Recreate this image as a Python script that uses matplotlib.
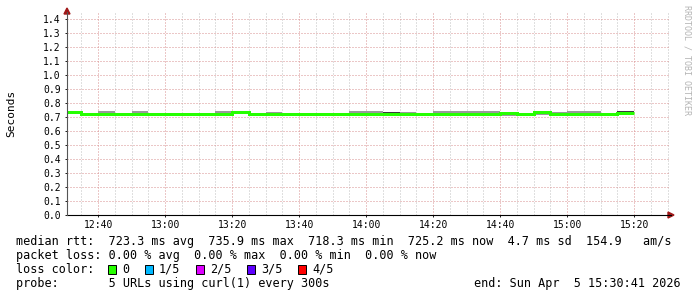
import matplotlib
matplotlib.use("Agg")
import matplotlib.pyplot as plt
from matplotlib.lines import Line2D
from matplotlib.patches import Polygon, Rectangle

# ---------------- data ----------------
start_time = "12:30:41"
end_time = "15:30:41"
seg_end = ["12:35", "12:40", "12:45", "12:50", "12:55", "13:00", "13:05", "13:10",
           "13:15", "13:20", "13:25", "13:30", "13:35", "13:40", "13:45", "13:50",
           "13:55", "14:00", "14:05", "14:10", "14:15", "14:20", "14:25", "14:30",
           "14:35", "14:40", "14:45", "14:50", "14:55", "15:00", "15:05", "15:10",
           "15:15", "15:20"]
median = [0.733, 0.722, 0.722, 0.722, 0.722, 0.722, 0.7183, 0.722,
          0.722, 0.724, 0.7359, 0.722, 0.719, 0.722, 0.722, 0.7195,
          0.722, 0.7195, 0.722, 0.724, 0.724, 0.719, 0.722, 0.722,
          0.722, 0.722, 0.730, 0.722, 0.734, 0.7195, 0.722, 0.720,
          0.722, 0.7252]
smoke_hi = [0.735, 0.728, 0.743, 0.724, 0.740, 0.724, 0.728, 0.724,
            0.724, 0.744, 0.738, 0.724, 0.739, 0.724, 0.724, 0.721,
            0.724, 0.744, 0.742, 0.737, 0.737, 0.721, 0.742, 0.742,
            0.742, 0.742, 0.732, 0.724, 0.736, 0.736, 0.740, 0.740,
            0.724, 0.743]
smoke_lo = [0.731, 0.720, 0.720, 0.720, 0.720, 0.720, 0.716, 0.720,
            0.720, 0.722, 0.734, 0.720, 0.717, 0.720, 0.720, 0.718,
            0.720, 0.718, 0.720, 0.722, 0.722, 0.717, 0.720, 0.720,
            0.720, 0.720, 0.708, 0.720, 0.712, 0.718, 0.720, 0.718,
            0.720, 0.723]
core_hi = [0.734, 0.723, 0.723, 0.723, 0.723, 0.723, 0.719, 0.723,
           0.723, 0.725, 0.737, 0.723, 0.720, 0.723, 0.723, 0.720,
           0.723, 0.720, 0.723, 0.737, 0.725, 0.720, 0.723, 0.723,
           0.723, 0.723, 0.731, 0.723, 0.735, 0.720, 0.723, 0.721,
           0.723, 0.743]
core_lo = [0.732, 0.721, 0.721, 0.721, 0.721, 0.721, 0.717, 0.721,
           0.721, 0.723, 0.735, 0.721, 0.718, 0.721, 0.721, 0.719,
           0.721, 0.719, 0.721, 0.723, 0.723, 0.718, 0.721, 0.721,
           0.721, 0.721, 0.729, 0.721, 0.733, 0.719, 0.721, 0.719,
           0.721, 0.724]
y_ticks = [0.0, 0.1, 0.2, 0.3, 0.4, 0.5, 0.6, 0.7, 0.8, 0.9, 1.0, 1.1, 1.2, 1.3, 1.4]
x_tick_labels = ["12:40", "13:00", "13:20", "13:40", "14:00", "14:20", "14:40", "15:00", "15:20"]
loss_labels = ["0", "1/5", "2/5", "3/5", "4/5"]
loss_colors = ["#26ff00", "#00b8ff", "#dd00ff", "#5e00ff", "#ff0000"]

legend_rtt = "median rtt:  723.3 ms avg  735.9 ms max  718.3 ms min  725.2 ms now  4.7 ms sd  154.9   am/s"
legend_loss = "packet loss: 0.00 % avg  0.00 % max  0.00 % min  0.00 % now"
legend_probe = "probe:       5 URLs using curl(1) every 300s"
legend_end = "end: Sun Apr  5 15:30:41 2026"


def mins(s):
    p = [int(v) for v in s.split(":")]
    while len(p) < 3:
        p.append(0)
    return p[0] * 60 + p[1] + p[2] / 60.0


t0 = mins(start_time)
t1 = mins(end_time)
edges = [t0] + [mins(s) for s in seg_end]

# ---------------- figure ----------------
W, H = 697, 297
fig = plt.figure(figsize=(W / 100, H / 100), dpi=100)
fig.patch.set_facecolor("white")


def fx(x):
    return x / W


def fy(y):
    return 1 - y / H


MONO = "DejaVu Sans Mono"

ax = fig.add_axes([fx(67), fy(215), (670 - 67) / W, (215 - 13) / H])
ax.set_xlim(t0, t1)
ytop = (215 - 13) / 140.0
ax.set_ylim(0, ytop)
for s in ax.spines.values():
    s.set_visible(False)
ax.set_facecolor("white")

# grid (dotted)
minor_x = [m for m in range(int(t0) // 5 * 5 + 5, int(t1) + 1, 5)]
major_x = [mins(s) for s in x_tick_labels]
minor_only = [m for m in minor_x if m not in major_x]
grid_kw = dict(linewidth=0.72, linestyles=(0, (1, 2)), zorder=1)
ax.vlines(minor_only, 0, ytop, colors="#c0c0c0", **grid_kw)
ax.vlines(major_x, 0, ytop, colors="#d89090", **grid_kw)
ax.hlines(y_ticks[1:], t0, t1, colors="#d89090", **grid_kw)

# smoke
ax.stairs(smoke_hi, edges, baseline=smoke_lo, fill=True, color="#999999",
          linewidth=0, zorder=2)
ax.stairs(core_hi, edges, baseline=core_lo, fill=True, color="#3a3a3a",
          linewidth=0, zorder=3)
# median line
ax.stairs(median, edges, baseline=None, color="#26ff00", linewidth=2.16, zorder=4)

# ticks
ax.set_xticks(major_x)
ax.set_xticklabels(x_tick_labels, fontfamily=MONO, fontsize=7)
ax.set_yticks(y_ticks)
ax.set_yticklabels(["%.1f" % v for v in y_ticks], fontfamily=MONO, fontsize=7)
ax.tick_params(axis="x", length=1.5, width=0.72, pad=2.0, color="#222222")
ax.tick_params(axis="y", length=1.5, width=0.72, pad=3.0, color="#222222")

# axes lines and arrows
fig.add_artist(Line2D([fx(67), fx(671)], [fy(215), fy(215)], color="black",
                      linewidth=0.8, transform=fig.transFigure))
fig.add_artist(Line2D([fx(67), fx(67)], [fy(215), fy(12)], color="#555555",
                      linewidth=0.8, transform=fig.transFigure))
fig.add_artist(Polygon([[fx(668), fy(212)], [fx(674), fy(215)], [fx(668), fy(218)]],
                       closed=True, color="#a01818", transform=fig.transFigure))
fig.add_artist(Polygon([[fx(64), fy(14)], [fx(67), fy(8)], [fx(70), fy(14)]],
                       closed=True, color="#a01818", transform=fig.transFigure))

# y label
fig.text(fx(11), fy(113), "Seconds", rotation=90, ha="center", va="center",
         fontfamily=MONO, fontsize=8)

# watermark
fig.text(fx(687), fy(60), "RRDTOOL / TOBI OETIKER", rotation=270, ha="center",
         va="center", fontfamily=MONO, fontsize=6, color="#b4b4b4")

# legend
LF = 8.5
fig.text(fx(16), fy(245), legend_rtt, ha="left", va="baseline", fontfamily=MONO, fontsize=LF)
fig.text(fx(16), fy(259), legend_loss, ha="left", va="baseline", fontfamily=MONO, fontsize=LF)
fig.text(fx(16), fy(273), "loss color:", ha="left", va="baseline", fontfamily=MONO, fontsize=LF)
box_x = [108, 145, 196, 247, 298]
for bx, lab, col in zip(box_x, loss_labels, loss_colors):
    fig.add_artist(Rectangle((fx(bx), fy(274)), 8 / W, 9 / H, facecolor=col,
                             edgecolor="black", linewidth=0.7, transform=fig.transFigure))
    fig.text(fx(bx + 14), fy(273), lab, ha="left", va="baseline", fontfamily=MONO, fontsize=LF)
fig.text(fx(16), fy(287), legend_probe, ha="left", va="baseline", fontfamily=MONO, fontsize=LF)
fig.text(fx(681), fy(287), legend_end, ha="right", va="baseline", fontfamily=MONO, fontsize=LF)

fig.savefig("out.png", dpi=100, facecolor="white")
